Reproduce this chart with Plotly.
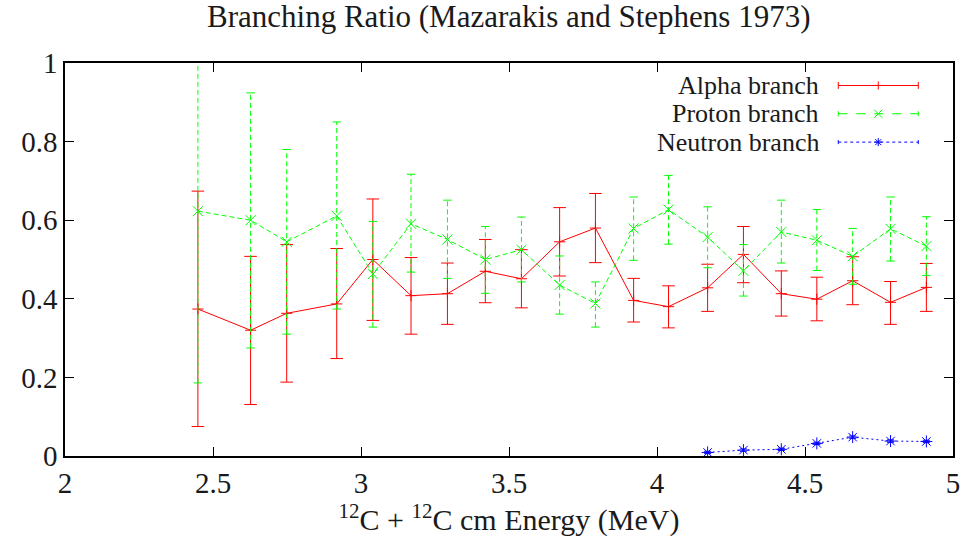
import plotly.graph_objects as go

# ---------------- data ----------------
energy = [2.449, 2.627, 2.749, 2.918, 3.040, 3.169, 3.292, 3.420, 3.542, 3.671,
          3.792, 3.921, 4.039, 4.171, 4.292, 4.420, 4.540, 4.661, 4.789, 4.910]

alpha = [0.374, 0.320, 0.363, 0.387, 0.500, 0.408, 0.413, 0.470, 0.451, 0.545,
         0.580, 0.396, 0.380, 0.428, 0.513, 0.413, 0.399, 0.446, 0.391, 0.429]
alpha_hi = [0.674, 0.508, 0.538, 0.528, 0.654, 0.505, 0.491, 0.551, 0.525, 0.632,
            0.668, 0.452, 0.433, 0.488, 0.584, 0.471, 0.455, 0.507, 0.444, 0.490]
alpha_lo = [0.075, 0.131, 0.188, 0.248, 0.345, 0.310, 0.335, 0.390, 0.377, 0.458,
            0.492, 0.341, 0.326, 0.368, 0.441, 0.356, 0.344, 0.385, 0.335, 0.368]

proton = [0.623, 0.600, 0.545, 0.611, 0.463, 0.591, 0.551, 0.500, 0.525, 0.435,
          0.388, 0.579, 0.627, 0.557, 0.471, 0.570, 0.549, 0.508, 0.578, 0.534]
proton_hi = [1.060, 0.924, 0.780, 0.850, 0.597, 0.717, 0.651, 0.584, 0.608, 0.509,
             0.443, 0.659, 0.714, 0.634, 0.538, 0.651, 0.627, 0.579, 0.659, 0.609]
proton_lo = [0.186, 0.275, 0.310, 0.374, 0.328, 0.468, 0.452, 0.414, 0.443, 0.361,
             0.328, 0.498, 0.539, 0.479, 0.407, 0.491, 0.472, 0.437, 0.496, 0.459]

neutron_energy = [4.171, 4.292, 4.420, 4.540, 4.661, 4.789, 4.910]
neutron = [0.009, 0.015, 0.017, 0.032, 0.048, 0.038, 0.037]
neutron_hi = [0.012, 0.018, 0.020, 0.035, 0.051, 0.041, 0.040]
neutron_lo = [0.006, 0.012, 0.014, 0.029, 0.045, 0.035, 0.034]

series_names = ["Alpha branch", "Proton branch", "Neutron branch"]
x_ticks = [2, 2.5, 3, 3.5, 4, 4.5, 5]
x_tick_labels = ["2", "2.5", "3", "3.5", "4", "4.5", "5"]
y_ticks = [0, 0.2, 0.4, 0.6, 0.8, 1]
y_tick_labels = ["0", "0.2", "0.4", "0.6", "0.8", "1"]

title_text = "Branching Ratio (Mazarakis and Stephens 1973)"
x_title = "<sup>12</sup>C + <sup>12</sup>C cm Energy (MeV)"

RED = "#ff0000"
GREEN = "#00ff00"
BLUE = "#0000ff"
FONT = "Liberation Serif"
TEXT = "#1a1a1a"

fig = go.Figure()


def add_series(xs, ys, lo, hi, color, dash, symbol, msize, capsize, name):
    # vertical error stems (drawn in the series' line style)
    sx, sy = [], []
    for x, l, h in zip(xs, lo, hi):
        sx += [x, x, None]
        sy += [l, h, None]
    fig.add_trace(go.Scatter(x=sx, y=sy, mode="lines",
                             line=dict(color=color, width=1, dash=dash),
                             hoverinfo="skip", showlegend=False))
    # error caps
    cx, cy = [], []
    for x, l, h in zip(xs, lo, hi):
        cx += [x, x]
        cy += [l, h]
    fig.add_trace(go.Scatter(x=cx, y=cy, mode="markers",
                             marker=dict(symbol="line-ew-open", size=capsize, color=color,
                                         line=dict(color=color, width=1)),
                             hoverinfo="skip", showlegend=False))
    # main line + points
    fig.add_trace(go.Scatter(x=xs, y=ys, mode="lines+markers", name=name,
                             line=dict(color=color, width=1, dash=dash),
                             marker=dict(symbol=symbol, size=msize, color=color,
                                         line=dict(color=color, width=1)),
                             showlegend=False))


add_series(energy, alpha, alpha_lo, alpha_hi, RED, "solid", "cross-thin-open", 8, 9, series_names[0])
add_series(energy, proton, proton_lo, proton_hi, GREEN, "5px,3px", "x-thin-open", 10, 6, series_names[1])
add_series(neutron_energy, neutron, neutron_lo, neutron_hi, BLUE, "2px,3px", "asterisk-open", 10, 5, series_names[2])

# ---------------- gnuplot-style key ----------------
key_text_x = 0.8506
key_line_x0, key_line_x1 = 0.8708, 0.9609
key_mid = (key_line_x0 + key_line_x1) / 2
key_rows = [0.9428, 0.8709, 0.7987]
key_styles = [(RED, "solid", 7), (GREEN, "dash", 5), (BLUE, "dot", 4)]
key_glyphs = [
    "M-4,0 L4,0 M0,-4 L0,4",
    "M-4,-4 L4,4 M-4,4 L4,-4",
    "M-4,0 L4,0 M0,-4 L0,4 M-3,-3 L3,3 M-3,3 L3,-3",
]
shapes = []
annotations = []
for name, yk, (col, dsh, cap), glyph in zip(series_names, key_rows, key_styles, key_glyphs):
    annotations.append(dict(text=name, x=key_text_x, y=yk, xref="paper", yref="paper",
                            xanchor="right", yanchor="middle", showarrow=False,
                            borderpad=0,
                            font=dict(family=FONT, size=26, color=TEXT)))
    shapes.append(dict(type="line", xref="paper", yref="paper",
                       x0=key_line_x0, x1=key_line_x1, y0=yk, y1=yk,
                       line=dict(color=col, width=1, dash=dsh)))
    for xe in (key_line_x0, key_line_x1):
        shapes.append(dict(type="line", xref="paper", yref="paper",
                           xsizemode="pixel", ysizemode="pixel",
                           xanchor=xe, yanchor=yk,
                           x0=0, x1=0, y0=-cap / 2, y1=cap / 2,
                           line=dict(color=col, width=1)))
    shapes.append(dict(type="path", xref="paper", yref="paper",
                       xsizemode="pixel", ysizemode="pixel",
                       xanchor=key_mid, yanchor=yk, path=glyph,
                       line=dict(color=col, width=1)))

annotations.append(dict(text=title_text, x=0.5, y=1, xref="paper", yref="paper",
                        xanchor="center", yanchor="bottom", yshift=27, showarrow=False,
                        font=dict(family=FONT, size=31, color=TEXT)))

fig.update_layout(
    width=966, height=545,
    margin=dict(l=65, r=13, t=63, b=89),
    paper_bgcolor="white", plot_bgcolor="white",
    showlegend=False,
    shapes=shapes, annotations=annotations,
    font=dict(family=FONT, size=29, color=TEXT),
)
fig.update_xaxes(range=[2, 5], tickvals=x_ticks, ticktext=x_tick_labels,
                 ticks="inside", ticklen=9, tickwidth=1, tickcolor="black",
                 showline=True, linecolor="black", linewidth=1.5, mirror="ticks",
                 showgrid=False, zeroline=False, automargin=False,
                 title=dict(text=x_title, font=dict(family=FONT, size=30, color=TEXT), standoff=10))
fig.update_yaxes(range=[0, 1], tickvals=y_ticks, ticktext=y_tick_labels,
                 ticks="inside", ticklen=9, tickwidth=1, tickcolor="black",
                 showline=True, linecolor="black", linewidth=1.5, mirror="ticks",
                 showgrid=False, zeroline=False, automargin=False)

fig.write_html("out.html", config={"displayModeBar": False},
               post_script="document.body.style.margin='0px';")
